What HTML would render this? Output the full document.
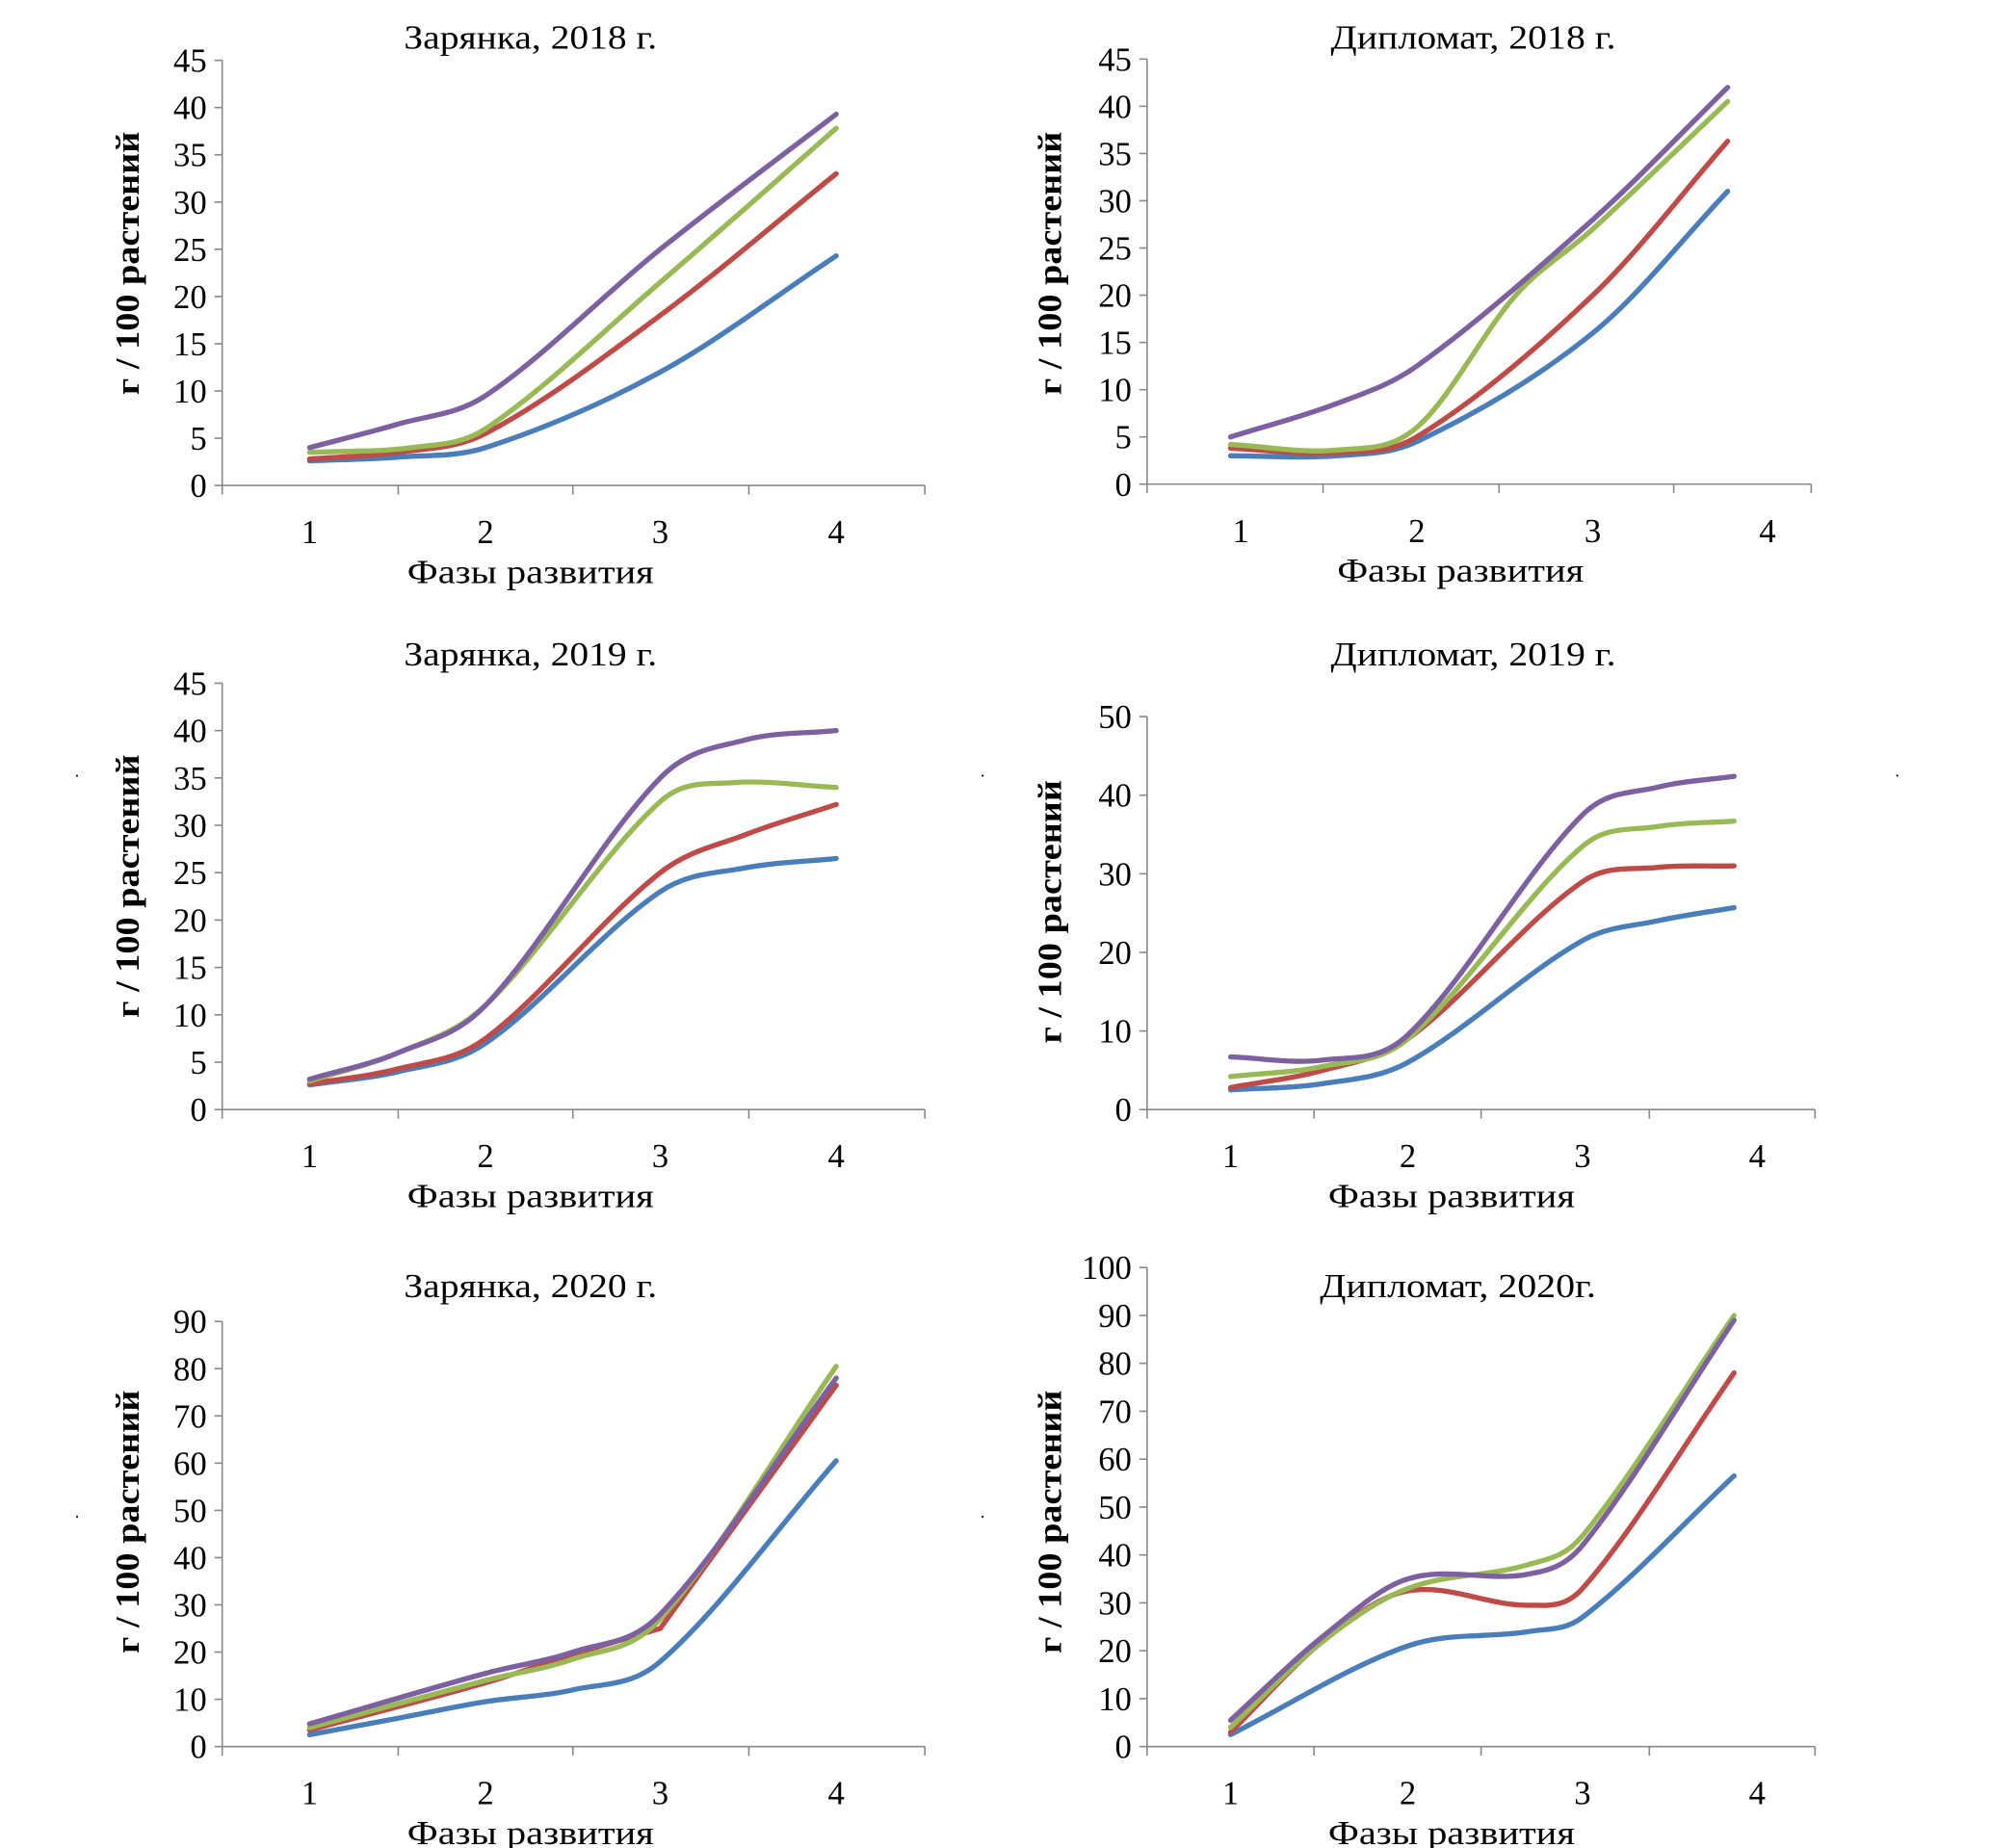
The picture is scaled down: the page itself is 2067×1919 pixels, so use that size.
<!DOCTYPE html>
<html><head><meta charset="utf-8"><style>
html,body{margin:0;padding:0;background:#fff}
svg{display:block}
text{font-family:"Liberation Serif",serif;fill:#000}
</style></head><body>
<svg id="s" width="2067" height="1919" viewBox="0 0 1550 1439" preserveAspectRatio="none" xmlns="http://www.w3.org/2000/svg"></svg>
<script>
const S=document.getElementById('s');const NS='http://www.w3.org/2000/svg';
function el(t,a,txt){const e=document.createElementNS(NS,t);for(const k in a)e.setAttribute(k,a[k]);if(txt!==undefined)e.textContent=txt;S.appendChild(e);return e;}
function path(pts){
 const n=pts.length,mL=[],mR=[];
 for(let i=0;i<n;i++){
  let m;
  if(i==0)m=(pts[1][1]-pts[0][1])/(pts[1][0]-pts[0][0]);
  else if(i==n-1)m=(pts[i][1]-pts[i-1][1])/(pts[i][0]-pts[i-1][0]);
  else m=(pts[i+1][1]-pts[i-1][1])/(pts[i+1][0]-pts[i-1][0]);
  mL[i]=m;mR[i]=m;
  if(pts[i][2]&&i>0&&i<n-1){mL[i]=(pts[i][1]-pts[i-1][1])/(pts[i][0]-pts[i-1][0]);mR[i]=(pts[i+1][1]-pts[i][1])/(pts[i+1][0]-pts[i][0]);}
 }
 let d='M'+pts[0][0]+','+pts[0][1];
 for(let i=0;i<n-1;i++){const a=pts[i],b=pts[i+1],dx=(b[0]-a[0])/3;
  d+=' C'+(a[0]+dx)+','+(a[1]+mR[i]*dx)+' '+(b[0]-dx)+','+(b[1]-mL[i+1]*dx)+' '+b[0]+','+b[1];}
 return d;}
const COL={b:'#4a7ebb',r:'#be4b48',g:'#98b954',p:'#7d60a0'};
function chart(c){
 const ax=c.ax,y0=c.y0,k=c.k;
 el('line',{x1:ax,y1:y0-c.ymax*k,x2:ax,y2:y0,stroke:'#888','stroke-width':1.2});
 el('line',{x1:ax,y1:y0,x2:c.xend,y2:y0,stroke:'#888','stroke-width':1.2});
 for(let v=0;v<=c.ymax;v+=c.step){const y=y0-v*k;el('line',{x1:ax-6,y1:y,x2:ax,y2:y,stroke:'#888','stroke-width':1.2});
  el('text',{x:ax-12,y:y+9,'font-size':26,'text-anchor':'end'},String(v));}
 c.bt.forEach(x=>el('line',{x1:x,y1:y0,x2:x,y2:y0+7,stroke:'#888','stroke-width':1.2}));
 c.cx.forEach((x,i)=>el('text',{x:x,y:y0+45,'font-size':26,'text-anchor':'middle'},String(i+1)));
 el('text',{x:c.tx,y:c.ty,'font-size':26,'text-anchor':'middle',textLength:c.tl||197,lengthAdjust:'spacingAndGlyphs'},c.title);
 el('text',{x:c.lx,y:y0+76,'font-size':26,'text-anchor':'middle',textLength:192,lengthAdjust:'spacingAndGlyphs'},'Фазы развития');
 el('text',{x:0,y:0,'font-size':26,'font-weight':'bold','text-anchor':'middle',textLength:205,lengthAdjust:'spacingAndGlyphs',transform:'translate('+c.yx+','+c.yy+') rotate(-90)'},'г / 100 растений');
 for(const key of ['b','r','g','p']){const pts=c.s[key].map(q=>[q[0],y0-q[1]*k,q[2]]);
  el('path',{d:path(pts),fill:'none',stroke:COL[key],'stroke-width':4,'stroke-linecap':'round','stroke-linejoin':'round'});}
}
const L=[241,378,514,651];
function z(xs,vs){return vs.map((v,i)=>[xs[i],v]);}
chart({ax:173,y0:378,k:7.356,ymax:45,step:5,xend:720,bt:[173,310,446,583,720],cx:L,title:'Зарянка, 2018 г.',tx:413,ty:38,lx:413,yx:108,yy:205,
 s:{b:[[241,2.6],[310,3],[378,4],[514,12],[651,24.3]],r:[[241,2.8],[310,3.5],[378,5.5],[514,18],[651,33]],g:[[241,3.5],[320,4],[378,6],[514,21.5],[651,37.8]],p:[[241,4],[310,6.5],[378,9.5],[514,25],[651,39.3]]}});
chart({ax:893,y0:377,k:7.356,ymax:45,step:5,xend:1410,bt:[893,1030,1167,1303,1410],cx:[966,1103,1240,1376],title:'Дипломат, 2018 г.',tx:1147,ty:38,tl:222,lx:1137,yx:826,yy:205,
 s:{b:[[958,3],[1040,3],[1103,4.5],[1240,16],[1345,31]],r:[[958,3.8],[1040,3.3],[1103,5],[1240,20],[1345,36.3]],g:[[958,4.2],[1040,3.6],[1103,6],[1180,20],[1240,27],[1345,40.5]],p:[[958,5],[1040,8.5],[1103,12.5],[1240,28],[1345,42]]}});
chart({ax:173,y0:864,k:7.378,ymax:45,step:5,xend:720,bt:[173,310,446,583,720],cx:L,title:'Зарянка, 2019 г.',tx:413,ty:518,lx:413,yx:108,yy:690,
 s:{b:[[241,2.6],[310,4],[378,7],[514,23],[580,25.5],[651,26.5]],r:[[241,2.7],[310,4.3],[378,7.5],[514,25],[580,29],[651,32.2]],g:[[241,3],[310,6],[378,11],[514,32.5],[570,34.5],[651,34]],p:[[241,3.2],[310,6],[378,11],[514,35],[580,39],[651,40]]}});
chart({ax:893,y0:864,k:6.12,ymax:50,step:10,xend:1413,bt:[893,1023,1153,1284,1413],cx:[958,1096,1232,1368],title:'Дипломат, 2019 г.',tx:1147,ty:518,tl:222,lx:1130,yx:826,yy:710,
 s:{b:[[958,2.5],[1030,3.3],[1096,6],[1232,21.5],[1290,24],[1350,25.7]],r:[[958,2.8],[1030,5],[1096,9],[1232,29],[1290,30.8],[1350,31]],g:[[958,4.2],[1030,5.5],[1096,9],[1232,33.5],[1290,36],[1350,36.7]],p:[[958,6.7],[1030,6.3],[1096,9.5],[1232,37.5],[1290,41],[1350,42.4]]}});
chart({ax:173,y0:1360,k:3.678,ymax:90,step:10,xend:720,bt:[173,310,446,583,720],cx:L,title:'Зарянка, 2020 г.',tx:413,ty:1010,lx:413,yx:108,yy:1185,
 s:{b:[[241,2.5],[310,6],[378,9.5],[446,12],[514,18],[651,60.5]],r:[[241,3.5],[378,13.5],[446,19.5],[514,25,1],[651,76.5]],g:[[241,4],[378,14],[446,18.5],[514,27],[651,80.5]],p:[[241,4.8],[378,15.5],[446,20],[514,28],[651,78]]}});
chart({ax:893,y0:1360,k:3.73,ymax:100,step:10,xend:1413,bt:[893,1023,1153,1284,1413],cx:[958,1096,1232,1368],title:'Дипломат, 2020г.',tx:1135,ty:1010,tl:215,lx:1130,yx:826,yy:1185,
 s:{b:[[958,2.5],[1096,21],[1190,24],[1232,27],[1350,56.5]],r:[[958,3],[1030,22],[1096,32.5],[1190,29.5],[1232,33],[1350,78]],g:[[958,4],[1030,22],[1096,33],[1190,38],[1232,44],[1350,90]],p:[[958,5.5],[1030,23],[1096,35],[1190,36],[1232,42],[1350,89]]}});
[[60,604],[765,604],[1477,604],[60,1181],[765,1181]].forEach(p=>el('circle',{cx:p[0],cy:p[1],r:0.8,fill:'#000'}));
</script>
</body></html>
